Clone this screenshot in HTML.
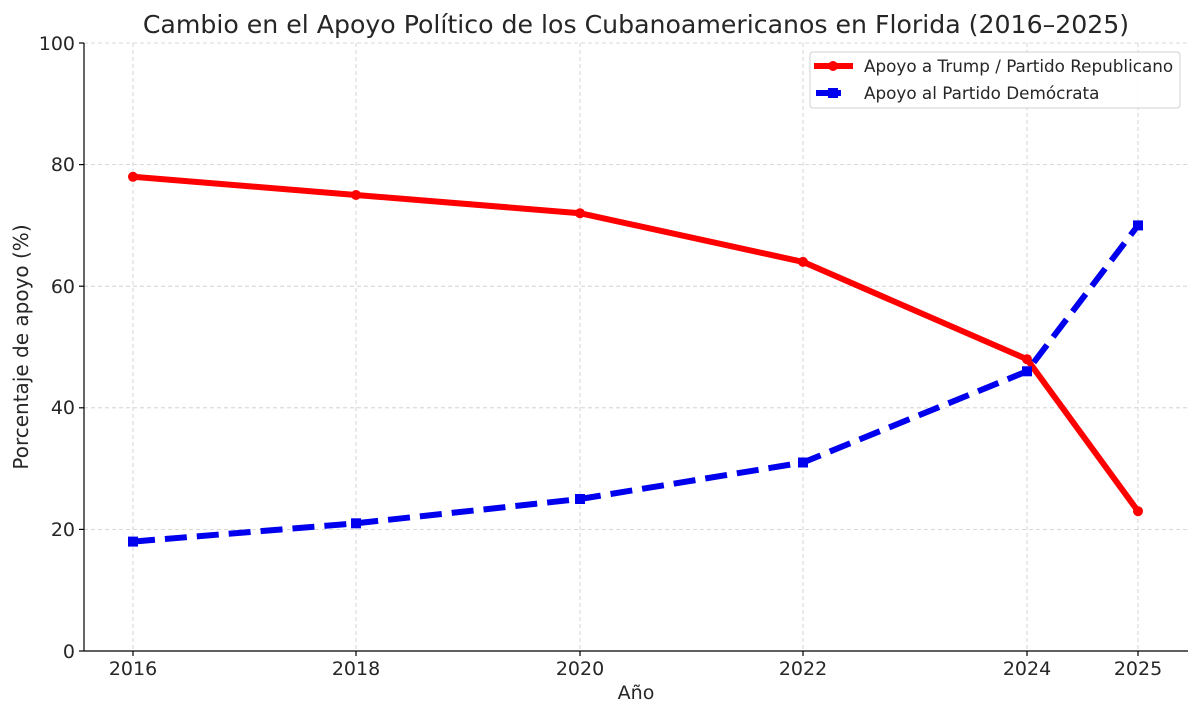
<!DOCTYPE html>
<html><head><meta charset="utf-8"><style>body{margin:0;background:#fff}svg{display:block}text{font-family:"DejaVu Sans","Liberation Sans",sans-serif;fill:#262626}</style></head><body>
<svg width="1200" height="716" viewBox="0 0 1200 716">
<g stroke="#cccccc" stroke-width="0.8" stroke-dasharray="4,3">
<line x1="133" y1="43" x2="133" y2="651"/><line x1="356" y1="43" x2="356" y2="651"/><line x1="580" y1="43" x2="580" y2="651"/><line x1="803" y1="43" x2="803" y2="651"/><line x1="1027" y1="43" x2="1027" y2="651"/><line x1="1138" y1="43" x2="1138" y2="651"/>
<line x1="84" y1="43" x2="1188" y2="43"/><line x1="84" y1="164.6" x2="1188" y2="164.6"/><line x1="84" y1="286.2" x2="1188" y2="286.2"/><line x1="84" y1="407.8" x2="1188" y2="407.8"/><line x1="84" y1="529.4" x2="1188" y2="529.4"/>
</g>
<g stroke="#000" stroke-width="1.2"><line x1="84" y1="43" x2="84" y2="651"/><line x1="84" y1="651" x2="1188" y2="651"/>
<line x1="79" y1="43" x2="84" y2="43"/><line x1="79" y1="164.6" x2="84" y2="164.6"/><line x1="79" y1="286.2" x2="84" y2="286.2"/><line x1="79" y1="407.8" x2="84" y2="407.8"/><line x1="79" y1="529.4" x2="84" y2="529.4"/><line x1="79" y1="651" x2="84" y2="651"/>
<line x1="133" y1="651" x2="133" y2="656"/><line x1="356" y1="651" x2="356" y2="656"/><line x1="580" y1="651" x2="580" y2="656"/><line x1="803" y1="651" x2="803" y2="656"/><line x1="1027" y1="651" x2="1027" y2="656"/><line x1="1138" y1="651" x2="1138" y2="656"/></g>
<g font-size="19" text-anchor="end"><text x="75" y="50">100</text><text x="75" y="171">80</text><text x="75" y="293">60</text><text x="75" y="414">40</text><text x="75" y="536">20</text><text x="75" y="658">0</text></g>
<g font-size="19" text-anchor="middle"><text x="133" y="675">2016</text><text x="356" y="675">2018</text><text x="580" y="675">2020</text><text x="803" y="675">2022</text><text x="1027" y="675">2024</text><text x="1138" y="675">2025</text>
<text x="636" y="699">Año</text><text x="636" y="33" font-size="25.2">Cambio en el Apoyo Político de los Cubanoamericanos en Florida (2016–2025)</text>
<text transform="translate(28,347) rotate(-90)" font-size="20">Porcentaje de apoyo (%)</text></g>
<polyline fill="none" stroke="#ff0000" stroke-width="6" stroke-linejoin="round" points="133,176.8 356,195 580,213.2 803,261.9 1027,359.2 1138,511.2"/>
<g fill="#ff0000"><circle cx="133" cy="176.8" r="5"/><circle cx="356" cy="195" r="5"/><circle cx="580" cy="213.2" r="5"/><circle cx="803" cy="261.9" r="5"/><circle cx="1027" cy="359.2" r="5"/><circle cx="1138" cy="511.2" r="5"/></g>
<polyline fill="none" stroke="#0000ee" stroke-width="6" stroke-dasharray="22,10" points="133,541.6 356,523.3 580,499 803,462.5 1027,371.3 1138,225.4"/>
<g fill="#0000ee"><rect x="128" y="536.6" width="10" height="10"/><rect x="351" y="518.3" width="10" height="10"/><rect x="575" y="494" width="10" height="10"/><rect x="798" y="457.5" width="10" height="10"/><rect x="1022" y="366.3" width="10" height="10"/><rect x="1133" y="220.4" width="10" height="10"/></g>
<rect x="810" y="52" width="370" height="56" rx="3" fill="#fff" fill-opacity="0.85" stroke="#d0d0d0"/>
<line x1="814" y1="66" x2="853" y2="66" stroke="#ff0000" stroke-width="6"/><circle cx="833" cy="66" r="5" fill="#ff0000"/>
<line x1="816" y1="93" x2="841" y2="93" stroke="#0000ee" stroke-width="6"/><rect x="828" y="88" width="10" height="10" fill="#0000ee"/>
<g font-size="16.8"><text x="864" y="72">Apoyo a Trump / Partido Republicano</text><text x="864" y="99">Apoyo al Partido Demócrata</text></g>
</svg></body></html>
